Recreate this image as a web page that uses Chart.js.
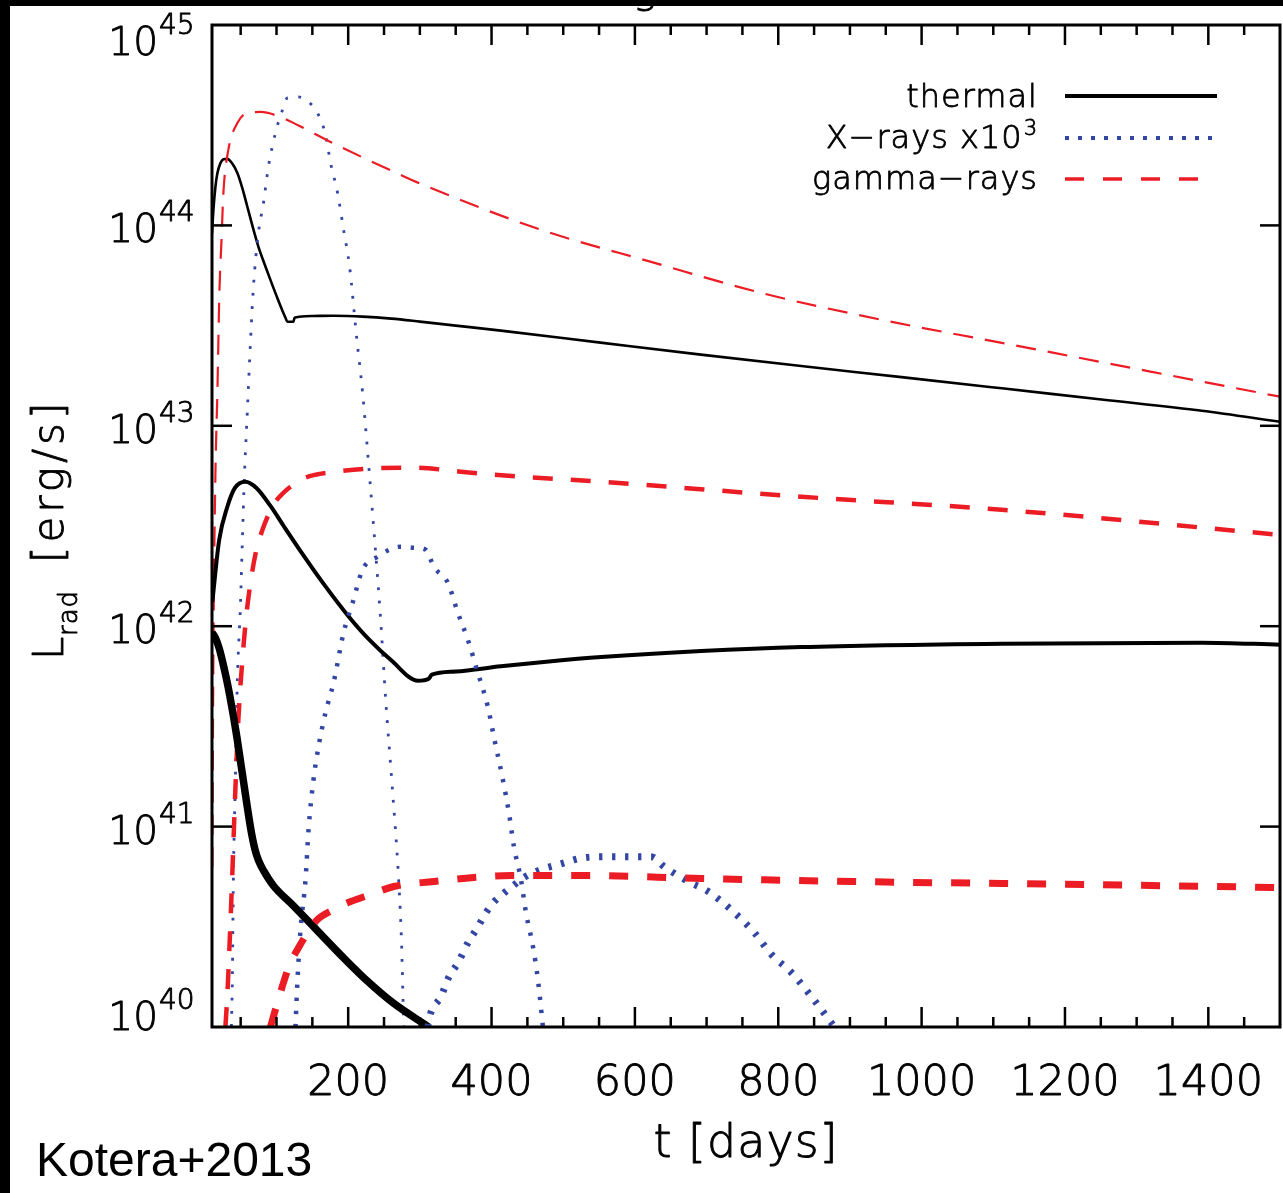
<!DOCTYPE html>
<html>
<head>
<meta charset="utf-8">
<script src="https://cdn.jsdelivr.net/npm/chart.js@4/dist/chart.umd.min.js"></script>
<style>
  html, body { margin: 0; padding: 0; background: #fff; overflow: hidden; }
  canvas { display: block; }
</style>
</head>
<body>
<canvas id="lc" width="1283" height="1193"></canvas>
<script>
// Radiated luminosity vs time, three models (thin / mid / thick line weight).
// Times in days, luminosities as log10(L [erg/s]).

const DAYS_MIN = 10, DAYS_MAX = 1500;
const LOG_MIN = 40, LOG_MAX = 45;

const xMajorTicks = [200, 400, 600, 800, 1000, 1200, 1400];
const xTickLabels = ['200', '400', '600', '800', '1000', '1200', '1400'];
const yTickExponents = [40, 41, 42, 43, 44, 45];
const legendLabels = ['thermal', 'X\u2212rays x10', 'gamma\u2212rays'];
const legendSuperscripts = ['', '3', ''];

// ---- thin model ----
const tThermalThin   = [10, 12, 14.7, 17.5, 21.7, 26, 31.4, 38, 45.4, 52, 59.4, 67, 74.8, 83, 91.5, 102, 112.5, 115.3, 123.7, 125.1, 150, 180, 220, 260, 300, 350, 413, 552, 692, 832, 972, 1112, 1251, 1391, 1500];
const logThermalThin = [43.96, 44.08, 44.19, 44.26, 44.31, 44.33, 44.332, 44.31, 44.262, 44.19, 44.092, 43.99, 43.893, 43.81, 43.728, 43.63, 43.539, 43.519, 43.519, 43.539, 43.548, 43.549, 43.545, 43.535, 43.52, 43.50, 43.475, 43.415, 43.355, 43.298, 43.243, 43.187, 43.131, 43.075, 43.020];

const tXrayThin   = [37.0, 38.4, 39.8, 42.6, 45.4, 49.6, 52.4, 55.2, 59.4, 63.6, 67.8, 74.8, 81.8, 88.7, 98.5, 108.3, 115.3, 130.7, 144.7, 157.2, 168.4, 175.4, 185.2, 193.6, 202.0, 211.7, 220.1, 229.9, 236.9, 245.3, 252.3, 260.7, 270.4, 274.6, 277.4];
const logXrayThin = [40.0, 40.237, 40.736, 41.234, 41.733, 42.097, 42.431, 42.746, 43.080, 43.414, 43.693, 43.963, 44.112, 44.292, 44.461, 44.576, 44.636, 44.641, 44.616, 44.561, 44.451, 44.312, 44.162, 43.978, 43.793, 43.444, 43.165, 42.746, 42.431, 42.032, 41.633, 41.234, 40.736, 40.401, 40.0];

const tGammaThin   = [10.5, 12, 14.7, 17.5, 20.3, 23.1, 25.9, 32.8, 45.4, 59.4, 77.6, 105.5, 129.3, 175.4, 221.5, 273.2, 298.4, 469, 622.6, 776.4, 944, 1111.8, 1321.4, 1500];
const logGammaThin = [40.8, 41.9, 42.746, 43.165, 43.663, 43.913, 44.162, 44.377, 44.511, 44.561, 44.566, 44.541, 44.501, 44.416, 44.337, 44.252, 44.212, 43.978, 43.818, 43.663, 43.529, 43.414, 43.269, 43.145];

// ---- mid model ----
const tThermalMid   = [10.5, 20, 31.4, 42, 56.6, 72, 91.6, 110, 133.5, 165, 199.2, 230, 260, 297.4, 312.4, 316.6, 350, 413, 480, 552.8, 692.5, 832, 1112, 1391, 1500];
const logThermalMid = [42.122, 42.43, 42.596, 42.69, 42.721, 42.69, 42.60, 42.50, 42.375, 42.215, 42.055, 41.93, 41.83, 41.728, 41.738, 41.758, 41.774, 41.800, 41.824, 41.846, 41.876, 41.896, 41.913, 41.918, 41.908];

const tXrayMid   = [126.4, 129.3, 133.5, 140.5, 144.7, 151.6, 158.6, 168.4, 179.6, 193.6, 206.2, 220.1, 241.1, 273.2, 291.4, 308.2, 319.4, 339.0, 353.0, 366.9, 380.9, 394.8, 403.2, 415.8, 424.2, 431.2, 441.0, 448.0, 457.8, 464.7, 471.7];
const logXrayMid = [40.0, 40.237, 40.486, 40.736, 40.985, 41.234, 41.399, 41.569, 41.718, 41.968, 42.117, 42.282, 42.347, 42.397, 42.392, 42.382, 42.297, 42.217, 42.067, 41.933, 41.768, 41.599, 41.449, 41.234, 41.070, 40.900, 40.736, 40.571, 40.401, 40.237, 40.0];

const tGammaMid   = [28.7, 31.4, 34.2, 37.0, 39.8, 42.6, 46.8, 52.4, 58.0, 65.0, 72.0, 80.4, 88.7, 98.5, 109.7, 119.5, 133.5, 154.5, 171.2, 227.1, 291.4, 357.1, 403.2, 552.8, 832.3, 1111.8, 1500];
const logGammaMid = [40.0, 40.160, 40.386, 40.636, 40.910, 41.185, 41.534, 41.833, 42.057, 42.247, 42.382, 42.481, 42.556, 42.621, 42.666, 42.696, 42.731, 42.756, 42.766, 42.786, 42.791, 42.771, 42.756, 42.721, 42.646, 42.581, 42.456];

// ---- thick model ----
const tThermalThick   = [10, 15, 20, 25, 30, 35, 40, 45, 50, 55, 60, 65, 70, 75, 82, 95.7, 123.7, 157.2, 193.6, 227.1, 263.4, 312.4];
const logThermalThick = [41.968, 41.94, 41.89, 41.82, 41.74, 41.65, 41.55, 41.44, 41.32, 41.20, 41.08, 40.97, 40.885, 40.83, 40.78, 40.705, 40.605, 40.48, 40.345, 40.228, 40.118, 40.0];

const tXrayThick   = [311.0, 315.2, 329.2, 340.4, 353.0, 366.9, 380.9, 392.0, 403.2, 417.2, 431.2, 445.1, 468.9, 492.7, 529.0, 562.5, 598.9, 622.6, 640.8, 674.4, 702.3, 738.6, 766.6, 790.4, 818.3, 846.3, 874.2, 878.4];
const logXrayThick = [40.0, 40.070, 40.150, 40.249, 40.319, 40.419, 40.499, 40.569, 40.623, 40.668, 40.708, 40.746, 40.786, 40.810, 40.845, 40.850, 40.850, 40.850, 40.800, 40.726, 40.676, 40.571, 40.471, 40.362, 40.272, 40.152, 40.02, 40.0];

const tGammaThick   = [91.5, 98.5, 105.5, 112.5, 119.5, 129.3, 143.3, 157.2, 179.6, 203.4, 231.3, 263.4, 319.4, 375.3, 427.0, 531.8, 692.5, 905, 1111.8, 1321, 1500];
const logGammaThick = [40.0, 40.087, 40.172, 40.252, 40.322, 40.387, 40.471, 40.536, 40.586, 40.626, 40.661, 40.701, 40.726, 40.746, 40.756, 40.756, 40.741, 40.726, 40.716, 40.706, 40.696];

const RED = '#ec1c24', BLUE = '#3346a3', BLACK = '#000000';

function series(days, logL) {
  return days.map((d, i) => ({ x: d, y: Math.pow(10, logL[i]) }));
}

function curve(days, logL, color, width, dash) {
  return {
    data: series(days, logL),
    borderColor: color,
    borderWidth: width,
    borderDash: dash || [],
    borderCapStyle: 'butt',
    borderJoinStyle: 'round',
    pointRadius: 0,
    pointHoverRadius: 0,
    fill: false,
    cubicInterpolationMode: 'monotone'
  };
}

const datasets = [
  curve(tGammaThick, logGammaThick, RED, 7, [19, 19]),
  curve(tXrayThick, logXrayThick, BLUE, 7, [3.3, 9.7]),
  curve(tThermalThick, logThermalThick, BLACK, 7.5),
  curve(tGammaMid, logGammaMid, RED, 4.5, [20, 18]),
  curve(tXrayMid, logXrayMid, BLUE, 4.5, [3.3, 9.7]),
  curve(tThermalMid, logThermalMid, BLACK, 4),
  curve(tGammaThin, logGammaThin, RED, 2.2, [20, 12]),
  curve(tXrayThin, logXrayThin, BLUE, 2.8, [2.8, 10.5]),
  curve(tThermalThin, logThermalThin, BLACK, 2.6)
];

const LIGHT = '200 ';
const TXT_FONT = '"DejaVu Sans", sans-serif';
const CITE_FONT = '"Liberation Sans", Arial, sans-serif';

function seg(ctx, x1, y1, x2, y2) {
  ctx.beginPath(); ctx.moveTo(x1, y1); ctx.lineTo(x2, y2); ctx.stroke();
}

// light glyphs with a thin outline to give them a pen-like stroke weight
function label(ctx, s, x, y) {
  ctx.fillText(s, x, y);
  ctx.strokeText(s, x, y);
}

const frameAndText = {
  id: 'frameAndText',
  beforeDraw(chart) {
    const ctx = chart.ctx;
    ctx.save();
    ctx.fillStyle = '#fff';
    ctx.fillRect(0, 0, chart.width, chart.height);
    ctx.restore();
  },
  afterDraw(chart) {
    const ctx = chart.ctx, a = chart.chartArea;
    const xs = chart.scales.x, ys = chart.scales.y;
    ctx.save();
    ctx.strokeStyle = BLACK;
    ctx.fillStyle = BLACK;

    // plot frame
    ctx.lineWidth = 3;
    ctx.strokeRect(a.left, a.top, a.right - a.left, a.bottom - a.top);

    // x ticks, inward on bottom and top
    ctx.lineWidth = 2.5;
    for (let d = 50; d < DAYS_MAX; d += 50) {
      const px = xs.getPixelForValue(d);
      const len = xMajorTicks.includes(d) ? 20 : 10;
      seg(ctx, px, a.bottom, px, a.bottom - len);
      seg(ctx, px, a.top, px, a.top + len);
    }
    // y ticks, inward on left and right
    yTickExponents.forEach(e => {
      if (e === LOG_MIN || e === LOG_MAX) return;
      const py = ys.getPixelForValue(Math.pow(10, e));
      seg(ctx, a.left, py, a.left + 20, py);
      seg(ctx, a.right, py, a.right - 20, py);
    });

    ctx.lineWidth = 0.9;
    ctx.lineJoin = 'round';

    // x tick labels
    ctx.font = LIGHT + '43px ' + TXT_FONT;
    ctx.textAlign = 'center';
    ctx.textBaseline = 'alphabetic';
    xMajorTicks.forEach((d, i) => {
      label(ctx, xTickLabels[i], xs.getPixelForValue(d), 1095);
    });

    // y tick labels: 10 with exponent
    yTickExponents.forEach(e => {
      const py = ys.getPixelForValue(Math.pow(10, e));
      const base = Math.min(Math.max(py + 17, 55), 1030);
      ctx.font = LIGHT + '39px ' + TXT_FONT;
      ctx.textAlign = 'right';
      label(ctx, '10', 158, base);
      ctx.font = LIGHT + '28px ' + TXT_FONT;
      ctx.textAlign = 'left';
      label(ctx, String(e), 159, base - 21);
    });

    // x axis title
    ctx.font = LIGHT + '46px ' + TXT_FONT;
    ctx.textAlign = 'center';
    ctx.letterSpacing = '1px';
    label(ctx, 't [days]', 746, 1157);
    ctx.letterSpacing = '0px';

    // y axis title, rotated
    ctx.save();
    ctx.translate(63, 660);
    ctx.rotate(-Math.PI / 2);
    ctx.textAlign = 'left';
    ctx.font = LIGHT + '42px ' + TXT_FONT;
    label(ctx, 'L', 0, 0);
    ctx.font = LIGHT + '26px ' + TXT_FONT;
    ctx.letterSpacing = '1px';
    label(ctx, 'rad', 24, 14);
    ctx.font = LIGHT + '42px ' + TXT_FONT;
    ctx.letterSpacing = '4px';
    label(ctx, '[erg/s]', 97, 0);
    ctx.letterSpacing = '0px';
    ctx.restore();

    // legend
    const legendY = [96, 138, 179];
    const legendBase = [107, 148, 189];
    const legendStyles = [
      { color: BLACK, width: 4, dash: [], x2: 1217 },
      { color: BLUE, width: 4, dash: [4, 9], x2: 1218 },
      { color: RED, width: 3.5, dash: [19, 19], x2: 1198 }
    ];
    legendLabels.forEach((text, i) => {
      const st = legendStyles[i];
      ctx.fillStyle = BLACK;
      ctx.strokeStyle = BLACK;
      ctx.lineWidth = 0.8;
      ctx.setLineDash([]);
      ctx.font = LIGHT + '32px ' + TXT_FONT;
      ctx.textAlign = 'right';
      let right = 1037;
      if (legendSuperscripts[i]) {
        ctx.font = LIGHT + '21px ' + TXT_FONT;
        const w = ctx.measureText(legendSuperscripts[i]).width;
        ctx.textAlign = 'left';
        label(ctx, legendSuperscripts[i], right - w, legendBase[i] - 13);
        right = right - w - 2;
        ctx.font = LIGHT + '32px ' + TXT_FONT;
        ctx.textAlign = 'right';
      }
      ctx.letterSpacing = '1px';
      label(ctx, text, right + 1, legendBase[i]);
      ctx.letterSpacing = '0px';
      ctx.strokeStyle = st.color;
      ctx.lineWidth = st.width;
      ctx.setLineDash(st.dash);
      ctx.lineCap = 'butt';
      seg(ctx, 1065, legendY[i], st.x2, legendY[i]);
      ctx.setLineDash([]);
    });

    // citation
    ctx.fillStyle = BLACK;
    ctx.font = '48px ' + CITE_FONT;
    ctx.textAlign = 'left';
    ctx.fillText('Kotera+2013', 36, 1176);

    // title remnant under the top edge
    ctx.strokeStyle = BLACK;
    ctx.lineWidth = 0.9;
    ctx.font = LIGHT + '40px ' + TXT_FONT;
    ctx.textAlign = 'center';
    label(ctx, 'g', 645, 3);

    // dark page edges
    ctx.fillRect(0, 0, chart.width, 6);
    ctx.fillRect(0, 0, 10, chart.height);
    ctx.restore();
  }
};

new Chart(document.getElementById('lc'), {
  type: 'line',
  data: { datasets },
  options: {
    responsive: false,
    animation: false,
    devicePixelRatio: 1,
    layout: { padding: { left: 212, top: 25, right: 3, bottom: 166 } },
    plugins: { legend: { display: false }, tooltip: { enabled: false } },
    scales: {
      x: { type: 'linear', min: DAYS_MIN, max: DAYS_MAX, display: false },
      y: { type: 'logarithmic', min: Math.pow(10, LOG_MIN), max: Math.pow(10, LOG_MAX), display: false }
    }
  },
  plugins: [frameAndText]
});
</script>
</body>
</html>
